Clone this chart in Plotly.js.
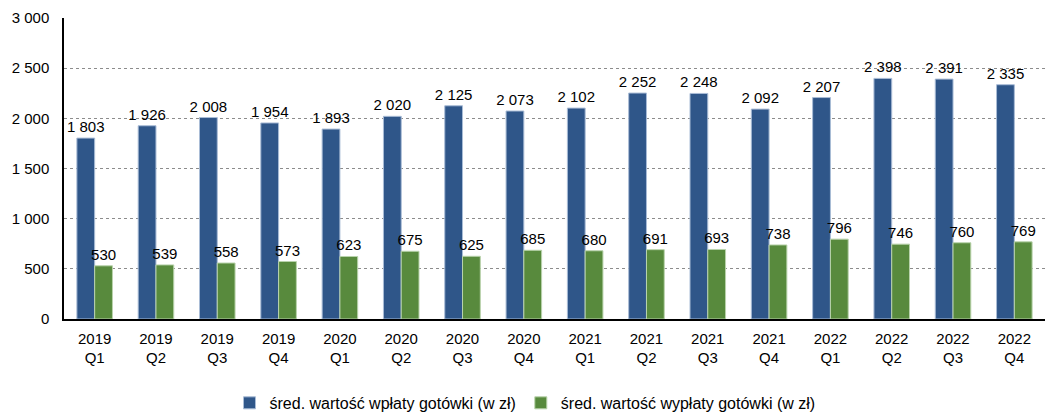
<!DOCTYPE html>
<html>
<head>
<meta charset="utf-8">
<script src="https://cdn.plot.ly/plotly-3.0.1.min.js"></script>
<style>
    body { margin: 0; background: #fff; }
    #chart { width: 1050px; height: 412px; }
</style>
</head>
<body>
<div id="chart"></div>
<script>
const quarters = [
    '2019<br>Q1', '2019<br>Q2', '2019<br>Q3', '2019<br>Q4',
    '2020<br>Q1', '2020<br>Q2', '2020<br>Q3', '2020<br>Q4',
    '2021<br>Q1', '2021<br>Q2', '2021<br>Q3', '2021<br>Q4',
    '2022<br>Q1', '2022<br>Q2', '2022<br>Q3', '2022<br>Q4'
];
const deposits = [1803, 1926, 2008, 1954, 1893, 2020, 2125, 2073, 2102, 2252, 2248, 2092, 2207, 2398, 2391, 2335];
const withdrawals = [530, 539, 558, 573, 623, 675, 625, 685, 680, 691, 693, 738, 796, 746, 760, 769];

const font = { family: 'Liberation Sans, Arial, sans-serif', size: 15, color: '#000' };

const depositTrace = {
    name: 'śred. wartość wpłaty gotówki (w zł)',
    type: 'bar',
    x: quarters,
    y: deposits,
    texttemplate: '%{y:,}',
    textposition: 'outside',
    constraintext: 'none',
    cliponaxis: false,
    textfont: font,
    marker: { color: '#2F5689', line: { color: '#A9BCD6', width: 1 } }
};

const withdrawalTrace = {
    name: 'śred. wartość wypłaty gotówki (w zł)',
    type: 'bar',
    x: quarters,
    y: withdrawals,
    texttemplate: '%{y:,}',
    textposition: 'outside',
    constraintext: 'none',
    cliponaxis: false,
    textfont: font,
    marker: { color: '#588A3D', line: { color: '#B9D3AC', width: 1 } }
};

const layout = {
    width: 1050,
    height: 412,
    margin: { l: 64, r: 5, t: 18, b: 93, autoexpand: false },
    separators: ', ',
    font: font,
    barmode: 'group',
    bargap: 0.42,
    bargroupgap: 0,
    showlegend: true,
    legend: {
        orientation: 'h',
        xref: 'container',
        x: 0.5,
        xanchor: 'center',
        yref: 'container',
        y: 0.022,
        yanchor: 'middle',
        font: { family: font.family, size: 16, color: '#000' },
        itemwidth: 30
    },
    xaxis: {
        showline: true,
        linecolor: '#000',
        linewidth: 1.5,
        ticks: '',
        ticklabelstandoff: 5,
        tickfont: font,
        automargin: false
    },
    yaxis: {
        range: [0, 3000],
        dtick: 500,
        tickformat: ',d',
        showline: true,
        linecolor: '#000',
        linewidth: 1.5,
        gridcolor: '#8C8C8C',
        griddash: 'dot',
        gridwidth: 1,
        zeroline: false,
        ticks: '',
        ticklabelstandoff: 10,
        tickfont: font,
        automargin: false
    },
    plot_bgcolor: '#fff',
    paper_bgcolor: '#fff'
};

Plotly.newPlot('chart', [depositTrace, withdrawalTrace], layout, { displayModeBar: false });
</script>
</body>
</html>
